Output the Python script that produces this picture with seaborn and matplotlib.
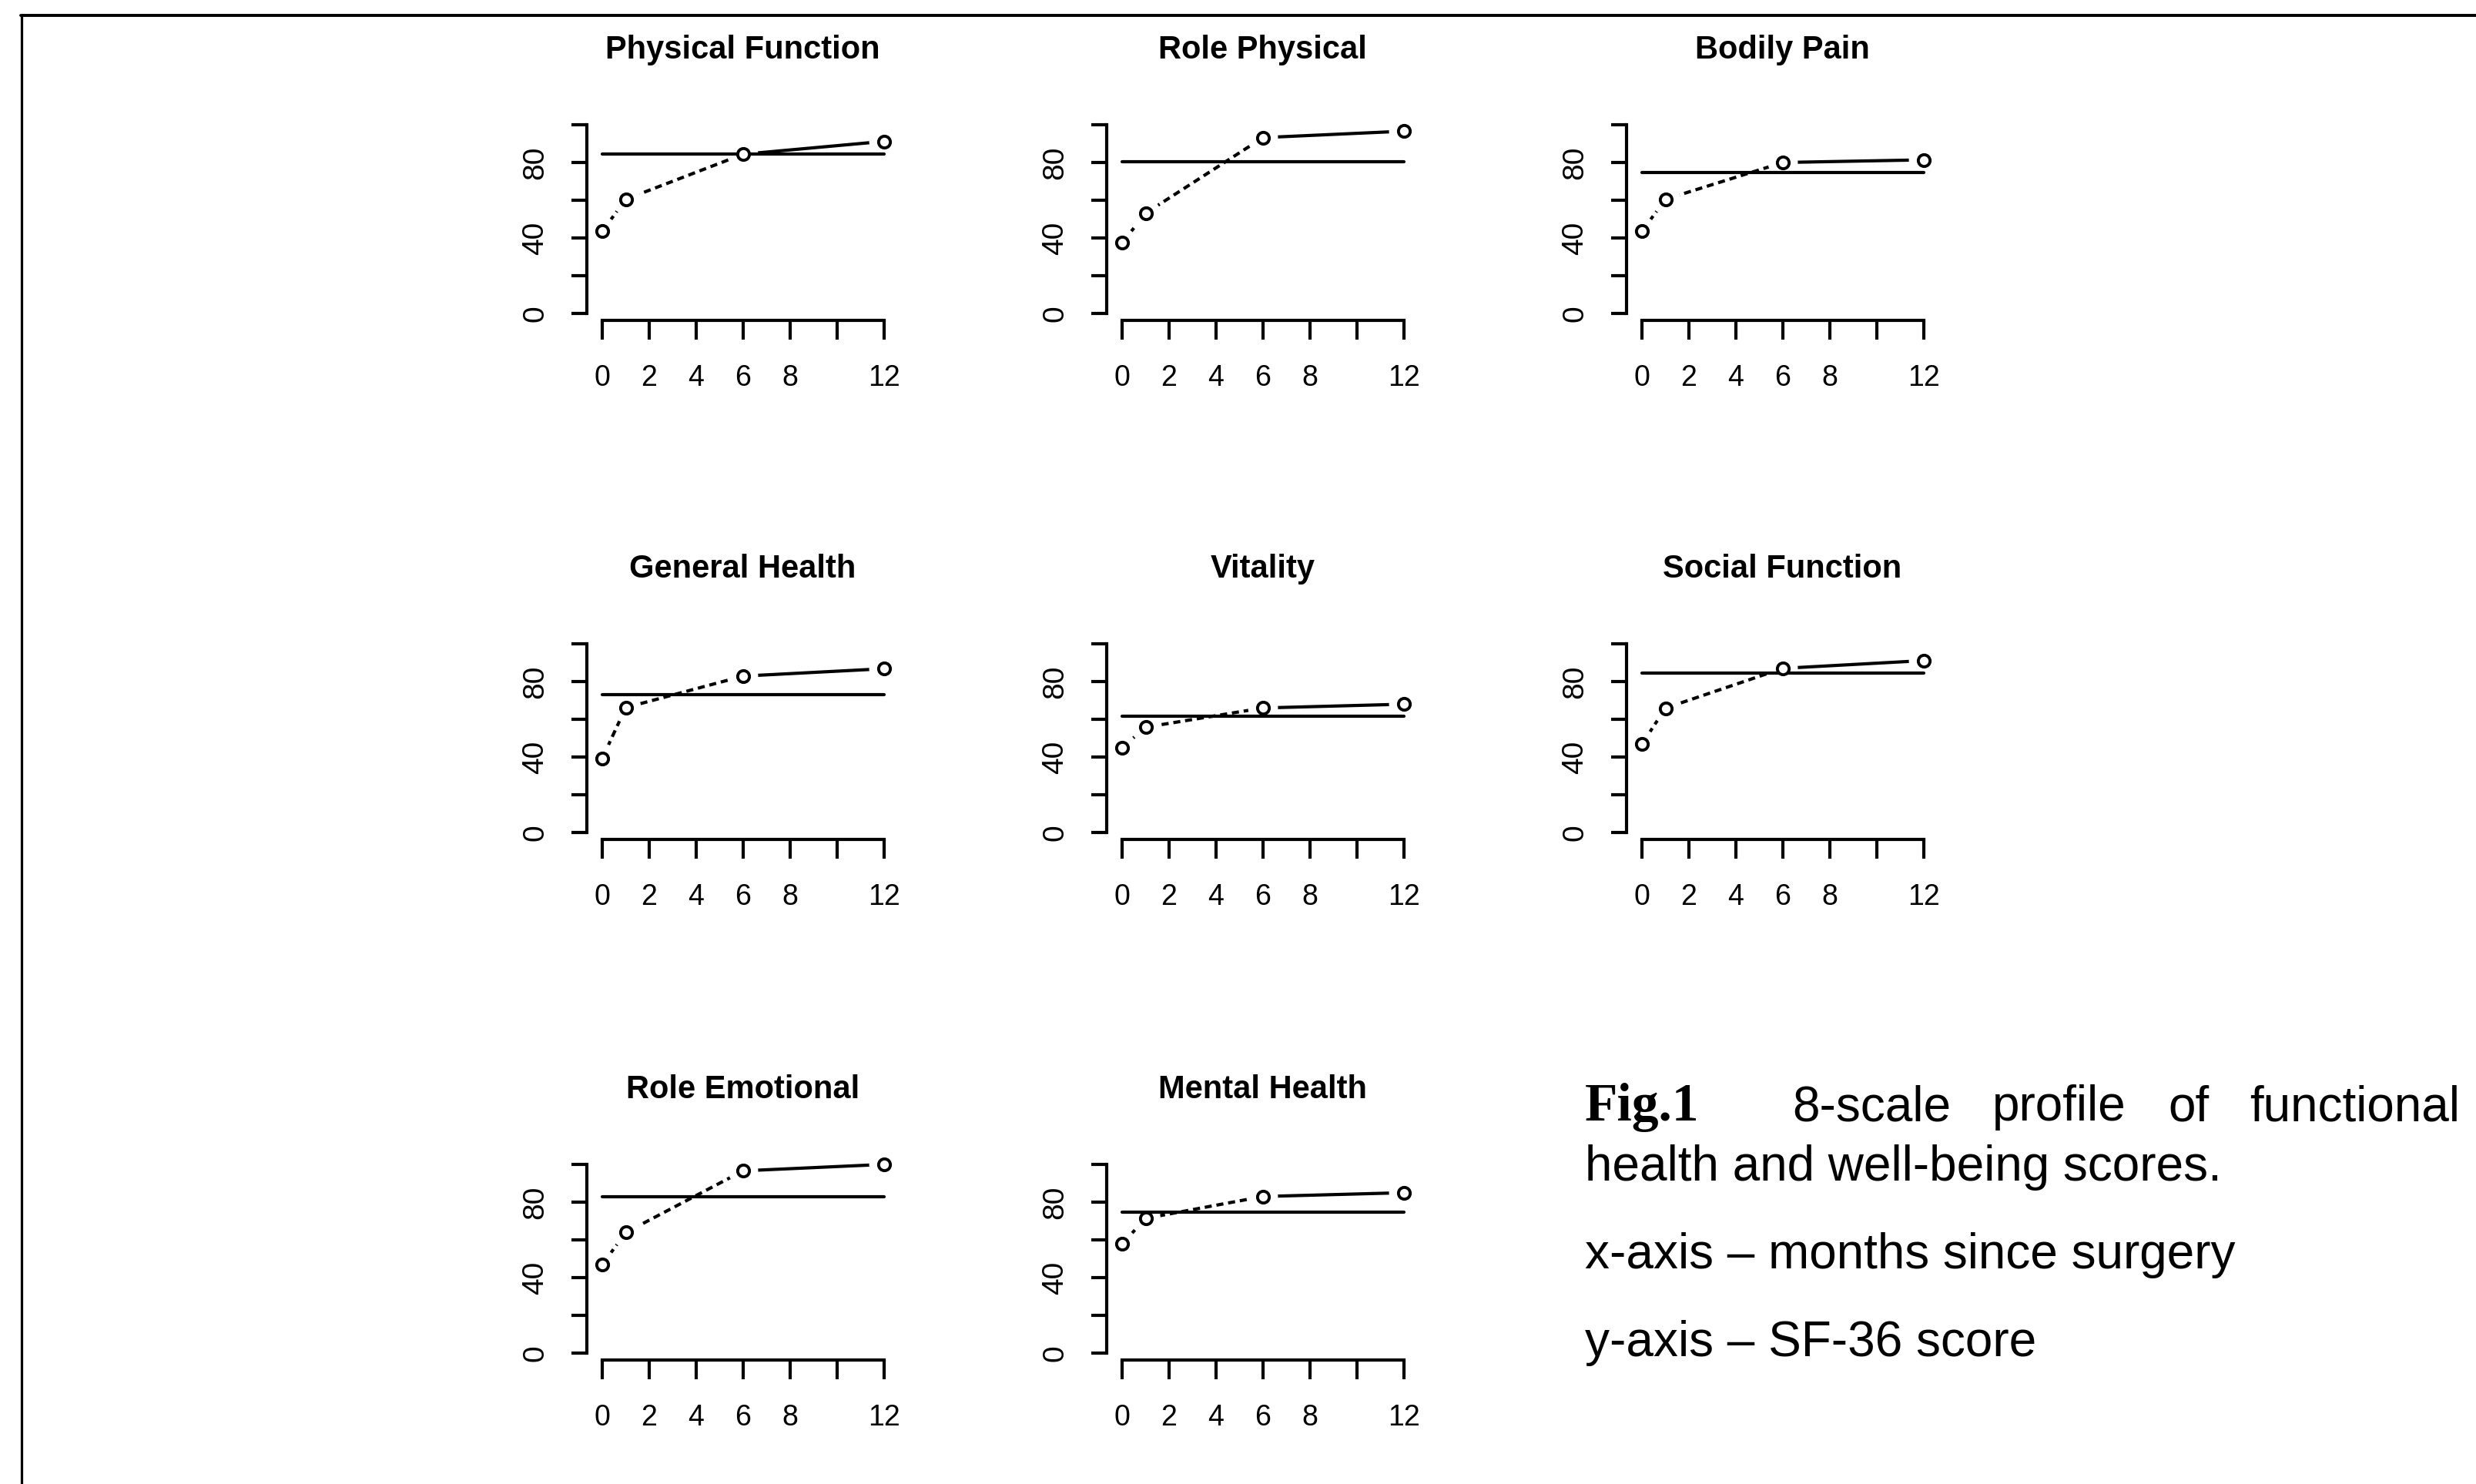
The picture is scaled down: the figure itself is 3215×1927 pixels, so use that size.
import matplotlib
matplotlib.use("Agg")
import matplotlib.pyplot as plt
import seaborn as sns
import pandas as pd
from matplotlib.lines import Line2D

# ---------------- data ----------------
months = [0, 1, 6, 12]
panel_titles = ["Physical Function", "Role Physical", "Bodily Pain",
                "General Health", "Vitality", "Social Function",
                "Role Emotional", "Mental Health"]
physical_function = [43.5, 60.5, 84.4, 91.2]
role_physical = [37.4, 53.1, 93.2, 96.6]
bodily_pain = [43.5, 60.5, 80.0, 81.4]
general_health = [39.3, 66.2, 82.9, 86.8]
vitality = [44.9, 55.8, 66.0, 68.0]
social_function = [46.8, 65.9, 87.0, 91.1]
role_emotional = [46.9, 63.9, 96.6, 100.0]
mental_health = [57.8, 71.4, 83.0, 85.0]
norm_scores = [84.4, 80.5, 74.8, 73.1, 61.6, 84.6, 82.7, 74.8]

x_ticks = [0, 2, 4, 6, 8, 10, 12]
x_tick_labels = ["0", "2", "4", "6", "8", "", "12"]
y_ticks = [0, 20, 40, 60, 80, 100]
y_tick_labels = ["0", "", "40", "", "80", ""]

caption_title = "Fig.1"
caption_words = ["8-scale", "profile", "of", "functional"]
caption_line2 = "health and well-being scores."
caption_line3 = "x-axis \u2013 months since surgery"
caption_line4 = "y-axis \u2013 SF-36 score"

series = [physical_function, role_physical, bodily_pain, general_health,
          vitality, social_function, role_emotional, mental_health]

# ---------------- style ----------------
sns.set_style("white")
plt.rcParams["font.family"] = ["Liberation Sans", "DejaVu Sans"]
plt.rcParams["text.color"] = "black"
plt.rcParams["axes.titlecolor"] = "black"
plt.rcParams["xtick.color"] = "black"
plt.rcParams["ytick.color"] = "black"

W, H = 3215, 1927
fig = plt.figure(figsize=(W / 100, H / 100), dpi=100)
fig.patch.set_facecolor("white")

# layout (pixel anchors of data origin per column / row)
col_x0 = [782, 1457, 2132]
row_y0 = [407, 1081, 1757]
sx = 30.5   # px per month
sy = 2.45   # px per score unit
XL = (-0.64, 12.6)
YL = (-3.5, 104)

LW = 3.0

for i, (title, vals, norm) in enumerate(zip(panel_titles, series, norm_scores)):
    r, c = divmod(i, 3)
    x0, y0 = col_x0[c], row_y0[r]
    left = x0 + XL[0] * sx
    right = x0 + XL[1] * sx
    bottom = y0 - YL[0] * sy
    top = y0 - YL[1] * sy
    ax = fig.add_axes([left / W, 1 - bottom / H, (right - left) / W, (bottom - top) / H])
    ax.set_facecolor("white")

    df = pd.DataFrame({"month": months, "score": vals})
    early = df.iloc[:3]
    late = df.iloc[2:]
    sns.lineplot(data=early, x="month", y="score", ax=ax, color="black",
                 linewidth=LW, linestyle=(0, (2.2, 1.5)), zorder=2)
    sns.lineplot(data=late, x="month", y="score", ax=ax, color="black",
                 linewidth=LW, zorder=2)
    # white gaps around points (R type="b" look)
    sns.scatterplot(data=df, x="month", y="score", ax=ax, s=28 ** 2,
                    color="white", edgecolor="none", linewidth=0, zorder=3)
    # norm reference line
    ndf = pd.DataFrame({"month": [months[0], months[-1]], "score": [norm, norm]})
    sns.lineplot(data=ndf, x="month", y="score", ax=ax, color="black",
                 linewidth=LW, zorder=4)
    # open circles
    sns.scatterplot(data=df, x="month", y="score", ax=ax, s=11 ** 2,
                    facecolor="white", edgecolor="black", linewidth=2.8,
                    marker="o", zorder=5)

    ax.set_xlim(*XL)
    ax.set_ylim(*YL)
    ax.set_xlabel("")
    ax.set_ylabel("")
    ax.set_xticks(x_ticks)
    ax.set_xticklabels(x_tick_labels)
    ax.set_yticks(y_ticks)
    ax.set_yticklabels(y_tick_labels)
    ax.tick_params(axis="x", length=18, width=LW, pad=23, labelsize=27,
                   colors="black", direction="out", bottom=True)
    ax.tick_params(axis="y", length=14.4, width=LW, pad=21, labelsize=28,
                   colors="black", labelrotation=90, direction="out", left=True)
    for lbl in ax.get_yticklabels():
        lbl.set_va("center")
    for s in ["top", "right"]:
        ax.spines[s].set_visible(False)
    for s in ["left", "bottom"]:
        ax.spines[s].set_visible(True)
        ax.spines[s].set_color("black")
        ax.spines[s].set_linewidth(LW)
        ax.spines[s].set_zorder(10)
    ax.spines["left"].set_bounds(y_ticks[0], y_ticks[-1])
    ax.spines["bottom"].set_bounds(x_ticks[0], x_ticks[-1])
    ax.grid(False)
    ax.set_title(title, fontsize=30, fontweight="bold", pad=55, color="black")

# ---------------- caption ----------------
def fx(px):
    return px / W


def fy(py):
    return 1 - py / H


fig.text(fx(2058), fy(1455), caption_title, family=["Liberation Serif", "DejaVu Serif"],
         fontweight="bold", fontsize=50, va="baseline", ha="left", color="black")
word_x = [2327, 2587, 2815]
for wx, word in zip(word_x, caption_words[:3]):
    fig.text(fx(wx), fy(1455), word, fontsize=46, va="baseline", ha="left", color="black")
fig.text(fx(3194), fy(1455), caption_words[3], fontsize=46, va="baseline", ha="right",
         color="black")
fig.text(fx(2058), fy(1533), caption_line2, fontsize=46, va="baseline", ha="left", color="black")
fig.text(fx(2058), fy(1647), caption_line3, fontsize=46, va="baseline", ha="left", color="black")
fig.text(fx(2058), fy(1761), caption_line4, fontsize=46, va="baseline", ha="left", color="black")

# ---------------- frame lines ----------------
fig.add_artist(Line2D([fx(27), 1.0], [fy(20), fy(20)], color="black", linewidth=2.8,
                      transform=fig.transFigure))
fig.add_artist(Line2D([fx(28), fx(28)], [fy(20), 0.0], color="black", linewidth=2.3,
                      transform=fig.transFigure))

fig.savefig("out.png", dpi=100, facecolor="white")
